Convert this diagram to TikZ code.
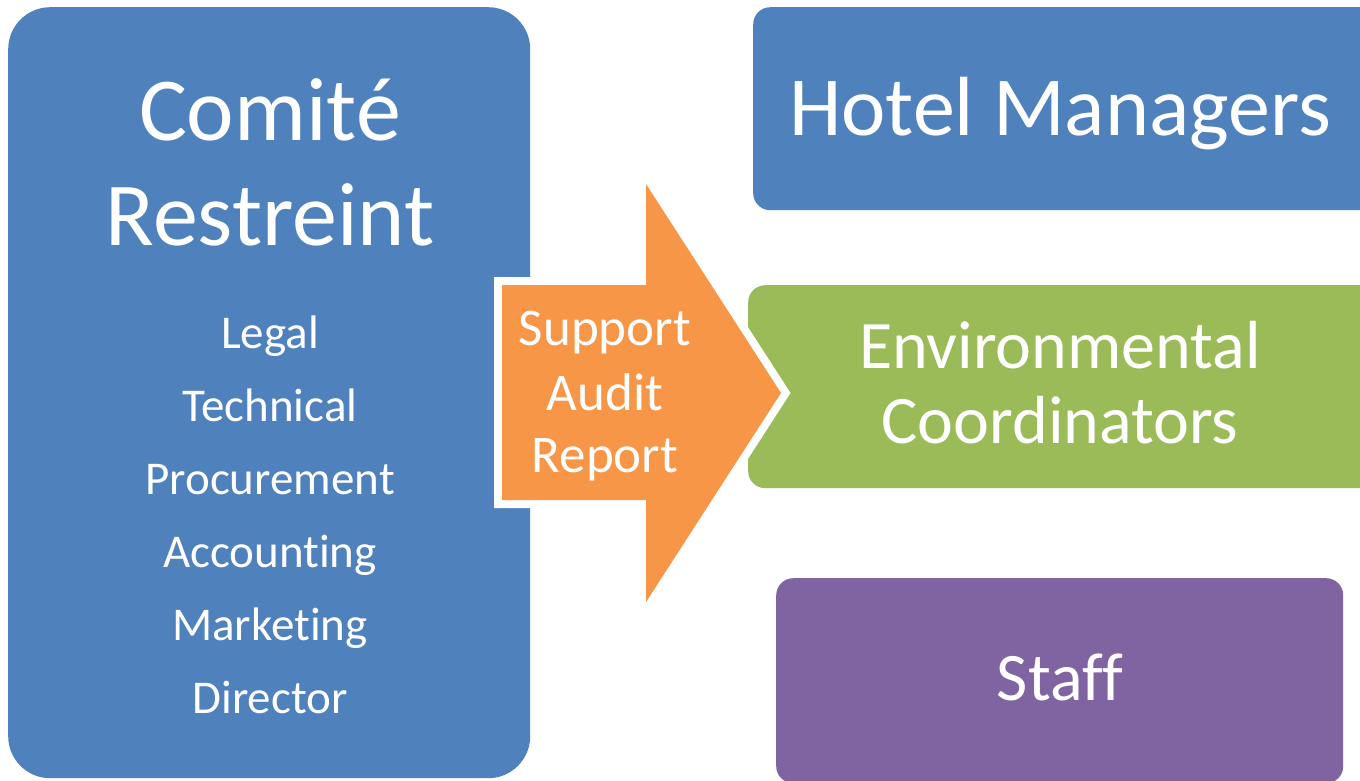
\documentclass[tikz,border=0pt]{standalone}
\usepackage{fontspec}
\setmainfont{Carlito}[Ligatures={NoCommon,TeX}]
\usepackage{xcolor}
\usepackage{tikz}
\usetikzlibrary{positioning}

\definecolor{boxBlue}{HTML}{4F81BD}
\definecolor{boxOrange}{HTML}{F79646}
\definecolor{boxGreen}{HTML}{9BBB59}
\definecolor{boxPurple}{HTML}{8064A2}

\tikzset{
    box/.style={rectangle, rounded corners=17pt, inner sep=0pt, anchor=north west},
    lbl/.style={text=white, anchor=base, inner sep=0pt},
}

\begin{document}
\begin{tikzpicture}[x=1pt, y=-1pt]
    \useasboundingbox (0,0) rectangle (1360,780);
    \clip (0,0) rectangle (1360,780);

    % committee box on the left
    \node[box, fill=boxBlue, rounded corners=42pt, minimum width=522pt, minimum height=771pt] (comite) at (8,7) {};
    \node[lbl, font=\fontsize{90}{105}\selectfont] (comiteA) at (270,140) {Comité};
    \node[lbl, font=\fontsize{90}{105}\selectfont] (comiteB) at (270,245) {Restreint};

    % the members, one line each
    \foreach \name [count=\i] in {Legal, Technical, Procurement, Accounting, Marketing, Director}
        \node[lbl, font=\fontsize{47}{56}\selectfont] (member\i) at (270,275+73*\i) {\name};

    % boxes on the right
    \node[box, fill=boxBlue, minimum width=640pt, minimum height=203pt] (hotel) at (753,7) {};
    \node[lbl, font=\fontsize{84}{100}\selectfont] (hotelText) at (1060,135) {Hotel Managers};

    \node[box, fill=boxGreen, minimum width=640pt, minimum height=203pt] (envir) at (748,285) {};
    \node[lbl, font=\fontsize{68}{80}\selectfont] (envirA) at (1060,368) {Environmental};
    \node[lbl, font=\fontsize{68}{80}\selectfont] (envirB) at (1060,443) {Coordinators};

    \node[box, fill=boxPurple, minimum width=567pt, minimum height=205pt] (staff) at (776,578) {};
    \node[lbl, font=\fontsize{68}{80}\selectfont] (staffText) at (1060,700) {Staff};

    % the big arrow in the middle
    \coordinate (bodyTL) at (502,285);
    \coordinate (bodyBL) at (502,500);
    \coordinate (tip) at (781,393);
    \fill[boxOrange, preaction={draw=white, line width=16pt, line join=miter}]
        (bodyTL) -- (646,285) -- (646,184) -- (tip) -- (646,602) -- (646,500) -- (bodyBL) -- cycle;

    \node[lbl, font=\fontsize{53}{64}\selectfont] (arrowA) at (605,345) {Support};
    \node[lbl, font=\fontsize{53}{64}\selectfont] (arrowB) at (605,410) {Audit};
    \node[lbl, font=\fontsize{53}{64}\selectfont] (arrowC) at (605,472) {Report};
\end{tikzpicture}
\end{document}
